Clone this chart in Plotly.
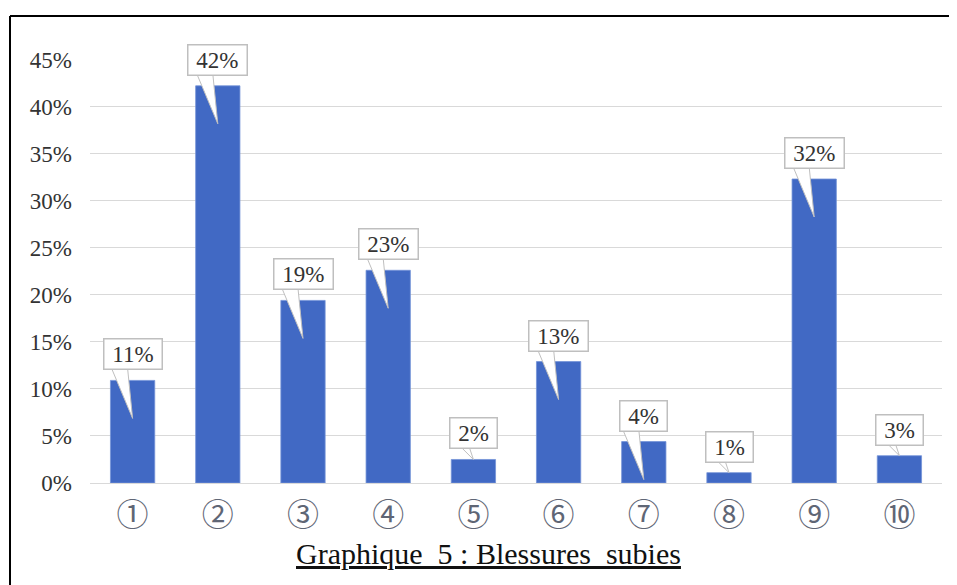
import plotly.graph_objects as go

categories = ["①", "②", "③", "④", "⑤", "⑥", "⑦", "⑧", "⑨", "⑩"]
values = [10.9, 42.2, 19.4, 22.6, 2.5, 12.9, 4.4, 1.1, 32.3, 2.9]
labels = ["11%", "42%", "19%", "23%", "2%", "13%", "4%", "1%", "32%", "3%"]
y_ticks = [0, 5, 10, 15, 20, 25, 30, 35, 40, 45]
y_ticktext = [f"{t}%" for t in y_ticks]
title_text = "Graphique  5 : Blessures  subies"

# page body has an 8px margin: figure occupies window from (8,8)
OFF = 8
W, H = 957 - OFF, 585 - OFF
ML, MR, MT, MB = 90 - OFF, 15, 59 - OFF, 102
pw, ph = W - ML - MR, H - MT - MB

xs = list(range(len(categories)))
SERIF = "Liberation Serif, Times New Roman, serif"

fig = go.Figure()
fig.add_trace(go.Bar(
    x=xs, y=values, width=0.52,
    marker=dict(color="#4169c4", line=dict(color="#7393d8", width=0.8)),
    hoverinfo="skip",
))

shapes = []
annotations = []
for i, (v, lab) in enumerate(zip(values, labels)):
    if v >= 4:
        path = "M -21,12 L -5,12 L 0,-38 Z"
    else:
        path = "M -12,12 L -4,12 L 0,0 Z"
    shapes.append(dict(
        type="path", xref="x", yref="y", xsizemode="pixel", ysizemode="pixel",
        xanchor=i, yanchor=v, path=path,
        fillcolor="white", line=dict(color="#bfbfbf", width=1), layer="above",
    ))
    annotations.append(dict(
        x=i, y=v, xref="x", yref="y", text=f"&nbsp;{lab}&nbsp;", showarrow=False,
        yanchor="bottom", yshift=10,
        font=dict(family=SERIF, size=23, color="#333333"),
        bgcolor="white", bordercolor="#bfbfbf", borderwidth=1.5, borderpad=2,
    ))

# title
annotations.append(dict(
    x=(488 - OFF - ML) / pw, y=-(553 - 483) / ph, xref="paper", yref="paper",
    text=f"<u>{title_text}</u>", showarrow=False, xanchor="center", yanchor="middle",
    font=dict(family=SERIF, size=30, color="#111111"),
))

# frame (left and top edges)
fx = (10 - 90) / pw
fy = 1 + (59 - 16) / ph
shapes.append(dict(type="line", xref="paper", yref="paper", x0=fx, x1=fx, y0=-0.5, y1=fy,
                   line=dict(color="black", width=2)))
shapes.append(dict(type="line", xref="paper", yref="paper", x0=fx, x1=1.2, y0=fy, y1=fy,
                   line=dict(color="black", width=2)))

fig.update_layout(
    width=W, height=H,
    margin=dict(l=ML, r=MR, t=MT, b=MB, pad=0),
    paper_bgcolor="white", plot_bgcolor="white",
    showlegend=False, bargap=0.48,
    shapes=shapes, annotations=annotations,
    xaxis=dict(
        range=[-0.5, len(categories) - 0.5],
        tickmode="array", tickvals=xs, ticktext=categories,
        tickfont=dict(family="Noto Sans CJK JP, DejaVu Sans", size=32, color="#5f6675"),
        showgrid=False, zeroline=False, showline=False, ticks="",
        ticklabelstandoff=10,
    ),
    yaxis=dict(
        range=[0, 45.05], tickmode="array", tickvals=y_ticks, ticktext=y_ticktext,
        tickfont=dict(family=SERIF, size=23, color="#333333"),
        showgrid=True, gridcolor="#d9d9d9", gridwidth=1.2,
        zeroline=True, zerolinecolor="#d9d9d9", zerolinewidth=1.2,
        showline=False, ticks="", ticklabelstandoff=17,
    ),
)

fig.write_html("out.html")
